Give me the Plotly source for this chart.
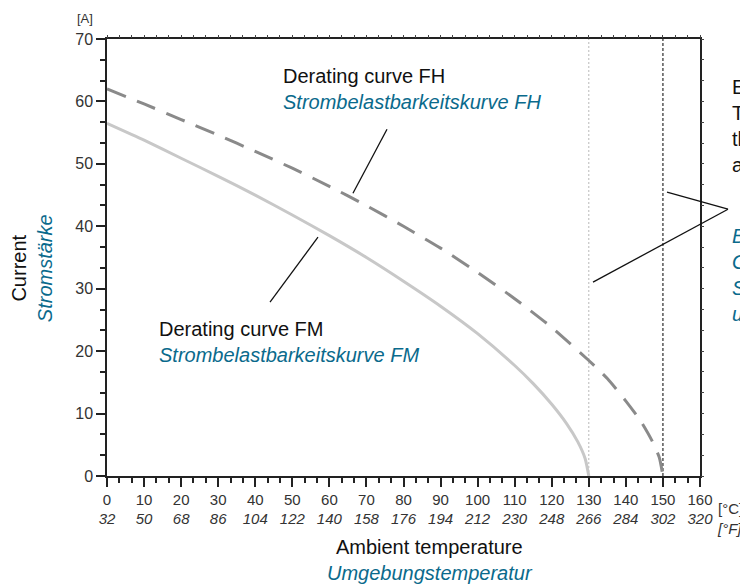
import plotly.graph_objects as go

# ---- data ----
temp_fm = [0, 10, 20, 30, 40, 50, 60, 70, 80, 90, 100, 110, 115, 120, 124, 127, 129, 130]
current_fm = [56.5, 53.8, 50.9, 48.0, 45.0, 41.8, 38.5, 35.0, 31.2, 27.2, 22.8, 17.7, 14.8, 11.5, 8.4, 5.5, 2.8, 0.0]

temp_fh = [0, 10, 20, 30, 40, 50, 60, 70, 80, 90, 100, 110, 120, 130, 135, 140, 144, 147, 149, 150]
current_fh = [62.0, 59.6, 57.1, 54.6, 52.0, 49.3, 46.4, 43.3, 40.0, 36.5, 32.6, 28.4, 23.8, 18.5, 15.6, 12.0, 8.8, 5.7, 3.0, 0.0]

limit_temps = [130, 150]

x_ticks_c = [0, 10, 20, 30, 40, 50, 60, 70, 80, 90, 100, 110, 120, 130, 140, 150, 160]
x_ticks_f = [32, 50, 68, 86, 104, 122, 140, 158, 176, 194, 212, 230, 248, 266, 284, 302, 320]
y_ticks = [0, 10, 20, 30, 40, 50, 60, 70]

TEAL = "#0a6a8c"
FONT = "Liberation Sans, Arial, sans-serif"
TICKC = "#333333"

fig = go.Figure()
fig.add_trace(go.Scatter(x=temp_fm, y=current_fm, mode="lines", line=dict(color="#c8c8c8", width=3, shape="spline", smoothing=0.6),
                         showlegend=False, hoverinfo="skip"))
fig.add_trace(go.Scatter(x=temp_fh, y=current_fh, mode="lines", line=dict(color="#8a8a8a", width=3, dash="20px,12px", shape="spline", smoothing=0.6),
                         showlegend=False, hoverinfo="skip"))
# dummy trace to activate the top/right tick axes
fig.add_trace(go.Scatter(x=[None], y=[None], xaxis="x2", yaxis="y2", showlegend=False, hoverinfo="skip"))

# limit lines
fig.add_shape(type="line", x0=limit_temps[0], x1=limit_temps[0], y0=0, y1=1, xref="x", yref="paper",
              line=dict(color="#b8b8b8", width=1, dash="2px,2px"), layer="below")
fig.add_shape(type="line", x0=limit_temps[1], x1=limit_temps[1], y0=0, y1=1, xref="x", yref="paper",
              line=dict(color="#000000", width=1, dash="3px,2px"), layer="below")

# pointer lines
def seg(x0, y0, x1, y1):
    fig.add_shape(type="line", x0=x0, y0=y0, x1=x1, y1=y1, xref="paper", yref="paper",
                  line=dict(color="#111111", width=1.3))

seg(0.2749, 0.3978, 0.3558, 0.5466)   # FM pointer
seg(0.4148, 0.6470, 0.4722, 0.7935)   # FH pointer
seg(0.9444, 0.6496, 1.0472, 0.6105)   # right pointer 1
seg(1.0472, 0.6105, 0.8196, 0.4436)   # right pointer 2

ticktext = [f"{c}<br><i>{f}</i>" for c, f in zip(x_ticks_c, x_ticks_f)]

fig.update_layout(
    width=748, height=587,
    margin=dict(l=99, r=56, t=31, b=119),
    paper_bgcolor="white", plot_bgcolor="white",
    font=dict(family=FONT, size=15, color=TICKC),
    xaxis=dict(range=[0, 160], tickmode="array", tickvals=x_ticks_c, ticktext=ticktext,
               ticks="outside", ticklen=9, tickwidth=1.5, tickcolor="#222",
               showline=True, linecolor="#222", linewidth=1.5, mirror=True,
               showgrid=False, zeroline=False,
               tickfont=dict(size=15, color=TICKC),
               minor=dict(tickmode="linear", tick0=0, dtick=10/3, ticks="outside", ticklen=5, tickwidth=1.5, tickcolor="#222", showgrid=False)),
    yaxis=dict(range=[0, 70], tickmode="array", tickvals=y_ticks,
               ticks="outside", ticklen=9, tickwidth=1.5, tickcolor="#222",
               showline=True, linecolor="#222", linewidth=1.5, mirror=True,
               showgrid=False, zeroline=False,
               tickfont=dict(size=16, color=TICKC),
               minor=dict(tickmode="linear", tick0=0, dtick=10/3, ticks="outside", ticklen=5, tickwidth=1.5, tickcolor="#222", showgrid=False)),
    xaxis2=dict(overlaying="x", side="top", range=[0, 160], tickmode="linear", tick0=0, dtick=10/3,
                ticks="outside", ticklen=3, tickwidth=1, tickcolor="#444", showticklabels=False,
                showgrid=False, zeroline=False, showline=False),
    yaxis2=dict(overlaying="y", side="right", range=[0, 70], tickmode="linear", tick0=0, dtick=10/3,
                ticks="outside", ticklen=3, tickwidth=1, tickcolor="#444", showticklabels=False,
                showgrid=False, zeroline=False, showline=False),
)

ann = []
ann.append(dict(x=-0.037, y=1.048, xref="paper", yref="paper", text="[A]", showarrow=False,
                font=dict(size=13, color=TICKC), xanchor="center", yanchor="middle"))
ann.append(dict(x=1.026, y=-0.05, xref="paper", yref="paper", text="[°C]<br><i>[°F]</i>", showarrow=False,
                font=dict(size=15, color=TICKC), xanchor="left", yanchor="top", align="left"))
ann.append(dict(x=-0.1265, y=0.4756, xref="paper", yref="paper", textangle=-90,
                text=f"Current<br><i><span style='color:{TEAL}'>Stromstärke</span></i>", showarrow=False,
                font=dict(size=20, color="#111"), xanchor="center", yanchor="middle"))
ann.append(dict(x=0.5447, y=-0.193, xref="paper", yref="paper",
                text=f"Ambient temperature<br><i><span style='color:{TEAL}'>Umgebungstemperatur</span></i>", showarrow=False,
                font=dict(size=20, color="#111"), xanchor="center", yanchor="middle"))
ann.append(dict(x=0.2934, y=0.945, xref="paper", yref="paper", align="left",
                text=f"Derating curve FH<br><i><span style='color:{TEAL}'>Strombelastbarkeitskurve FH</span></i>", showarrow=False,
                font=dict(size=20, color="#111"), xanchor="left", yanchor="top"))
ann.append(dict(x=0.0843, y=0.365, xref="paper", yref="paper", align="left",
                text=f"Derating curve FM<br><i><span style='color:{TEAL}'>Strombelastbarkeitskurve FM</span></i>", showarrow=False,
                font=dict(size=20, color="#111"), xanchor="left", yanchor="top"))
ann.append(dict(x=1.051, y=0.92, xref="paper", yref="paper", align="left",
                text="Exceeding the limit<br>Temperature of<br>the connector<br>and cable", showarrow=False,
                font=dict(size=20, color="#111"), xanchor="left", yanchor="top"))
ann.append(dict(x=1.051, y=0.58, xref="paper", yref="paper", align="left",
                text=f"<i>Bei Überschreitung der<br>Grenztemperatur<br>Steckverbinder<br>und Leitung</i>", showarrow=False,
                font=dict(size=20, color=TEAL), xanchor="left", yanchor="top"))
fig.update_layout(annotations=ann)

fig.write_html("out.html")
